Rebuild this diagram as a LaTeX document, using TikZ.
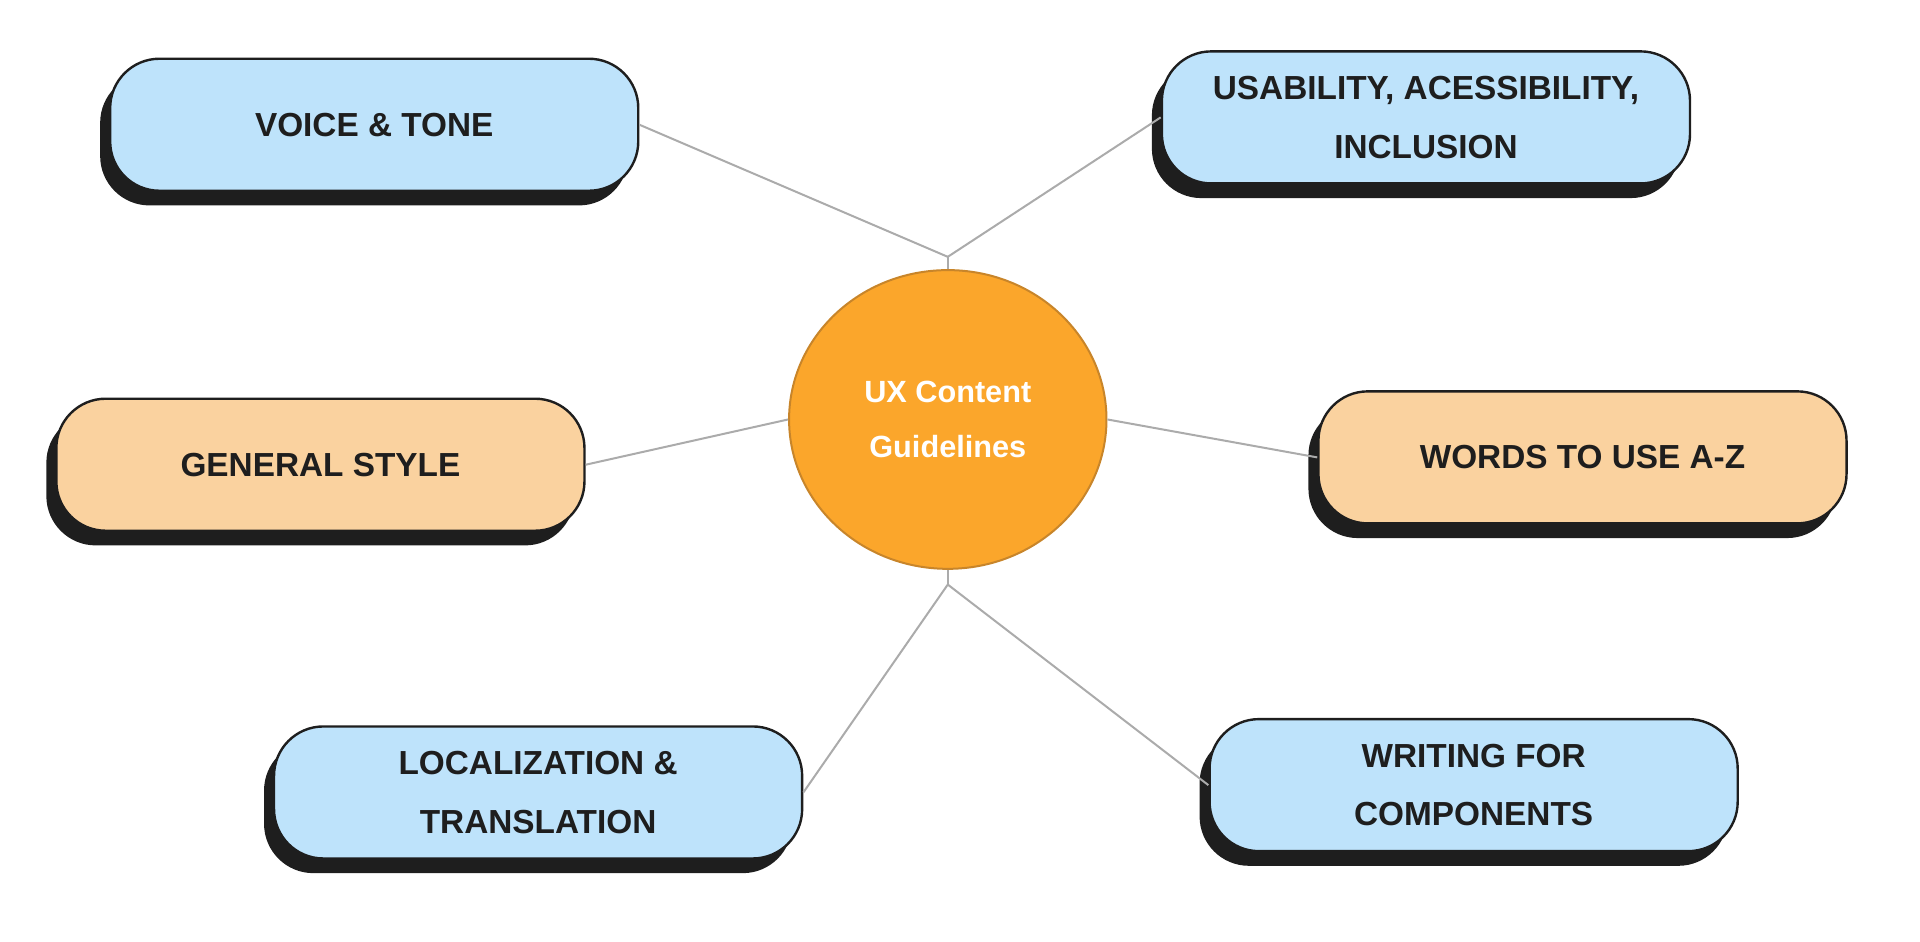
\documentclass[tikz,border=0pt]{standalone}
\usepackage{fontspec}
\setmainfont{Liberation Sans}
\usetikzlibrary{shapes.geometric,shadows}
\definecolor{bluefill}{HTML}{BEE3FB}
\definecolor{peach}{HTML}{FAD29F}
\definecolor{orangefill}{HTML}{FBA62B}
\definecolor{orangeline}{HTML}{C8852A}
\definecolor{ink}{HTML}{1E1E1E}
\definecolor{conn}{HTML}{ABABAB}
\begin{document}
\begin{tikzpicture}[x=0.917pt,y=-0.917pt,
  box/.style={rectangle,rounded corners=37pt,minimum width=396pt,minimum height=99pt,
    draw=ink,line width=1.8pt,align=center,text=ink,
    font=\fontsize{25pt}{44pt}\selectfont\bfseries,
    drop shadow={shadow xshift=-7.5pt,shadow yshift=-11pt,fill=ink,opacity=1}},
  blue/.style={box,fill=bluefill},
  orange/.style={box,fill=peach},
  link/.style={draw=conn,line width=1.5pt}]
\useasboundingbox (0,0) rectangle (1570,770);
\node[ellipse,fill=orangefill,draw=orangeline,line width=1.5pt,minimum width=238pt,minimum height=224pt,
  text=white,align=center,font=\fontsize{23pt}{41pt}\selectfont\bfseries] (c) at (775,343) {UX Content\\Guidelines};
\node[blue] (voice) at (306,102) {VOICE \& TONE};
\node[blue] (usab) at (1166,96) {USABILITY, ACESSIBILITY,\\INCLUSION};
\node[orange] (gen) at (262,380) {GENERAL STYLE};
\node[orange] (words) at (1294,374) {WORDS TO USE A-Z};
\node[blue] (loc) at (440,648) {LOCALIZATION \&\\TRANSLATION};
\node[blue] (writ) at (1205,642) {WRITING FOR\\COMPONENTS};
\coordinate (j1) at (775,210);
\coordinate (j2) at (775,478);
\draw[link] (voice.east) -- (j1);
\draw[link] (usab.west) -- (j1);
\draw[link] (j1) -- (c.north);
\draw[link] (c.south) -- (j2);
\draw[link] (j2) -- (loc.east);
\draw[link] (j2) -- (writ.west);
\draw[link] (gen.east) -- (c.west);
\draw[link] (c.east) -- (words.west);
\end{tikzpicture}
\end{document}
